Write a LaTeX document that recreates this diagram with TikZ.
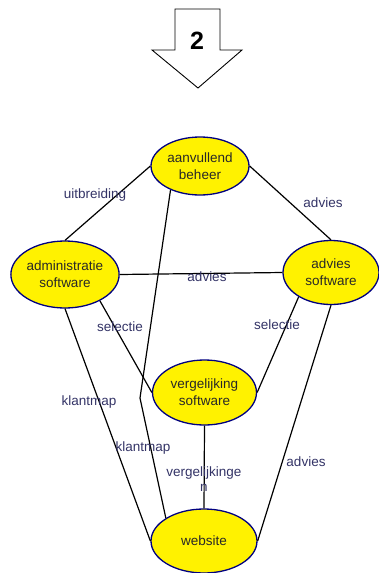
\documentclass[tikz,border=0pt]{standalone}
\usepackage{fontspec}
\setmainfont{Liberation Sans}
\usetikzlibrary{shapes.geometric}
\definecolor{randblauw}{RGB}{0,0,128}
\definecolor{labelblauw}{RGB}{51,51,102}
\definecolor{tekstgrijs}{RGB}{40,40,40}
\begin{document}
\begin{tikzpicture}[x=1pt, y=-1pt,
        bol/.style={ellipse, draw=randblauw, line width=1.3pt, fill=yellow, inner sep=0pt,
            align=center, text=tekstgrijs, font=\fontsize{13.5}{17}\selectfont},
        lbl/.style={text=labelblauw, inner sep=1pt, align=center, font=\fontsize{13.5}{15}\selectfont},
        lijn/.style={line width=1.2pt}]
    \useasboundingbox (0,0) rectangle (378,573);
    % pijl met nummer
    \draw[line width=0.9pt] (175,9) -- (220,9) -- (220,50) -- (242,50) -- (198,88) -- (152,50) -- (175,50) -- cycle;
    \node[font=\fontsize{25}{25}\bfseries\selectfont] (nummer) at (197,41) {2};
    % ellipsen
    \node[bol, minimum width=98pt, minimum height=58pt] (aanvullend) at (200,166) {aanvullend\\beheer};
    \node[bol, minimum width=104pt, minimum height=67pt] (admin) at (65,274.5) {administratie\\software};
    \node[bol, minimum width=96pt, minimum height=64pt] (advies) at (331,272.5) {advies\\software};
    \node[bol, minimum width=104pt, minimum height=65pt] (vergelijking) at (204.5,392.5) {vergelijking\\software};
    \node[bol, minimum width=106pt, minimum height=64pt] (website) at (204,541) {website};
    \coordinate (knik) at (140,398);
    % verbindingen
    \draw[lijn] (aanvullend.west) -- (admin.north);
    \draw[lijn] (aanvullend.east) -- (advies.north);
    \draw[lijn] (aanvullend.-141) -- (knik) -- (website.149.5);
    \draw[lijn] (admin.east) -- (advies.west);
    \draw[lijn] (admin.-37.6) -- (vergelijking.west);
    \draw[lijn] (advies.-143) -- (vergelijking.east);
    \draw[lijn] (admin.south) -- (website.west);
    \draw[lijn] (vergelijking.south) -- (website.north);
    \draw[lijn] (advies.south) -- (website.east);
    % labels
    \node[lbl] (uitbreiding) at (95,195) {uitbreiding};
    \node[lbl] (advies1) at (323,203) {advies};
    \node[lbl] (advies2) at (207,277) {advies};
    \node[lbl] (selectie1) at (120,327) {selectie};
    \node[lbl] (selectie2) at (277,325) {selectie};
    \node[lbl] (klantmap1) at (89,402) {klantmap};
    \node[lbl] (klantmap2) at (143,448) {klantmap};
    \node[lbl] (vergelijkingen) at (204,479) {vergelijkinge\\n};
    \node[lbl] (advies3) at (306,462) {advies};
\end{tikzpicture}
\end{document}
